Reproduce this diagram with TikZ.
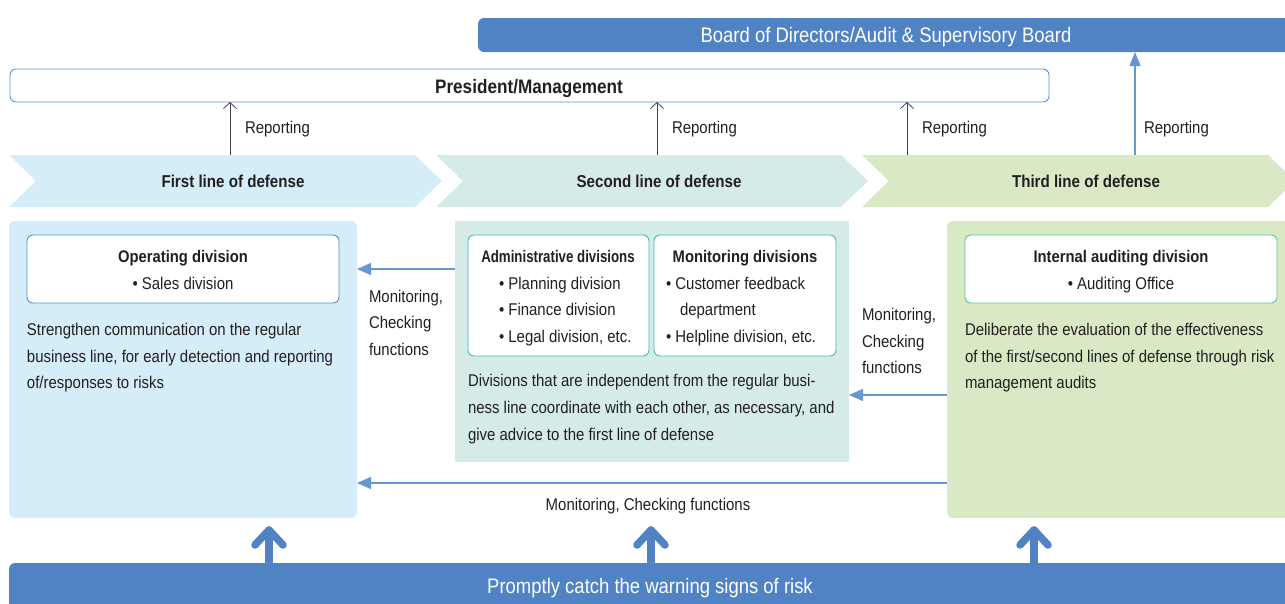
\documentclass[tikz,border=0pt]{standalone}
\usepackage{fontspec}
\setmainfont{Liberation Sans}[FakeStretch=0.88]
\newfontfamily\admfont{Liberation Sans}[FakeStretch=0.79]
\usetikzlibrary{arrows.meta}
\definecolor{txt}{HTML}{231F20}
\definecolor{mainblue}{HTML}{5083C4}
\definecolor{lineblue}{HTML}{6797D3}
\definecolor{fillA}{HTML}{D5ECF9}
\definecolor{fillB}{HTML}{D4EBE8}
\definecolor{fillC}{HTML}{D9E9C5}
\definecolor{strokeA}{HTML}{5B8FD0}
\definecolor{strokeB}{HTML}{3DBDB5}
\definecolor{strokeC}{HTML}{5DC29A}
\newcommand\bodyfnt{\fontsize{17}{26.5}\selectfont}
\newcommand\titlefnt{\fontsize{16.8}{20}\selectfont\bfseries}
\tikzset{
  txtline/.style={anchor=base west, font=\bodyfnt, text=txt},
  ctrline/.style={anchor=base, font=\bodyfnt, text=txt},
  ttl/.style={anchor=base, font=\titlefnt, text=txt},
  subbox/.style={draw=#1, line width=0.9pt, fill=white, rounded corners=6pt, anchor=north west},
  bluearr/.style={draw=lineblue, line width=1.3pt, -{Triangle[length=14pt,width=12pt]}, color=lineblue},
  reparr/.style={draw=txt!85, line width=0.8pt, -{Straight Barb[length=6pt,width=13pt]}},
  bigarr/.style={draw=mainblue, line width=7.5pt, line cap=round, line join=round},
}
\begin{document}
\begin{tikzpicture}[x=1pt,y=-1pt, every node/.style={inner sep=0pt, outer sep=0pt}]
\useasboundingbox (0,0) rectangle (1285,603);
\clip (0,0) rectangle (1285,603);

% Board
\node[fill=mainblue, rounded corners=6pt, minimum width=820pt, minimum height=34pt, anchor=north west] (board) at (478,18) {};
\node[anchor=base, font=\fontsize{21}{24}\selectfont, text=white] (boardt) at (886,42) {Board of Directors/Audit \& Supervisory Board};

% President
\node[draw=strokeA, line width=0.9pt, fill=white, rounded corners=6pt, minimum width=1039pt, minimum height=33pt, anchor=north west] (pres) at (10,69) {};
\node[anchor=base, font=\fontsize{19.5}{22}\selectfont\bfseries, text=txt] (prest) at (529,93) {President/Management};

% Chevrons
\fill[fillA] (9,155) -- (415,155) -- (442,181) -- (415,207) -- (9,207) -- (36,181) -- cycle;
\fill[fillB] (436,155) -- (841,155) -- (868,181) -- (841,207) -- (436,207) -- (463,181) -- cycle;
\fill[fillC] (862,155) -- (1268,155) -- (1295,181) -- (1268,207) -- (862,207) -- (889,181) -- cycle;
\node[ttl, font=\fontsize{17.2}{20}\selectfont\bfseries] (l1) at (233,187) {First line of defense};
\node[ttl, font=\fontsize{17.2}{20}\selectfont\bfseries] (l2) at (659,187) {Second line of defense};
\node[ttl, font=\fontsize{17.2}{20}\selectfont\bfseries] (l3) at (1086,187) {Third line of defense};

% Reporting arrows
\coordinate (r1) at (230,155);
\coordinate (r2) at (657,155);
\coordinate (r3) at (907,155);
\coordinate (r4) at (1135,155);
\draw[reparr] (r1) -- (r1 |- pres.south);
\draw[reparr] (r2) -- (r2 |- pres.south);
\draw[reparr] (r3) -- (r3 |- pres.south);
\draw[draw=lineblue, line width=1.3pt, -{Triangle[length=14pt,width=11pt]}] (r4) -- (r4 |- board.south);
\node[txtline] (rep1) at (245,133) {Reporting};
\node[txtline] (rep2) at (672,133) {Reporting};
\node[txtline] (rep3) at (922,133) {Reporting};
\node[txtline] (rep4) at (1144,133) {Reporting};

% Big boxes
\node[fill=fillA, rounded corners=6pt, minimum width=348pt, minimum height=297pt, anchor=north west] (box1) at (9,221) {};
\node[fill=fillB, minimum width=394pt, minimum height=241pt, anchor=north west] (box2) at (455,221) {};
\node[fill=fillC, rounded corners=6pt, minimum width=360pt, minimum height=297pt, anchor=north west] (box3) at (947,221) {};

% First line content
\node[subbox=strokeA, minimum width=312pt, minimum height=68pt] (opbox) at (27,235) {};
\node[ttl] (opt) at (183,262) {Operating division};
\node[ctrline] (op1) at (183,289) {• Sales division};
\node[txtline] (d11) at (27,335) {Strengthen communication on the regular};
\node[txtline] (d12) at (27,362) {business line, for early detection and reporting};
\node[txtline] (d13) at (27,388) {of/responses to risks};

% Second line content
\node[subbox=strokeB, minimum width=181pt, minimum height=121pt] (adbox) at (468,235) {};
\node[subbox=strokeB, minimum width=182pt, minimum height=121pt] (mobox) at (654,235) {};
\node[ttl, font=\fontsize{16.8}{20}\selectfont\admfont\bfseries] (adt) at (558,262) {Administrative divisions};
\node[txtline] (ad1) at (499,289) {• Planning division};
\node[txtline] (ad2) at (499,315) {• Finance division};
\node[txtline] (ad3) at (499,342) {• Legal division, etc.};
\node[ttl] (mot) at (745,262) {Monitoring divisions};
\node[txtline] (mo1) at (666,289) {• Customer feedback};
\node[txtline] (mo2) at (680,315) {department};
\node[txtline] (mo3) at (666,342) {• Helpline division, etc.};
\node[txtline] (d21) at (468,386) {Divisions that are independent from the regular busi-};
\node[txtline] (d22) at (468,413) {ness line coordinate with each other, as necessary, and};
\node[txtline] (d23) at (468,440) {give advice to the first line of defense};

% Third line content
\node[subbox=strokeC, minimum width=312pt, minimum height=68pt] (iabox) at (965,235) {};
\node[ttl] (iat) at (1121,262) {Internal auditing division};
\node[ctrline] (ia1) at (1121,289) {• Auditing Office};
\node[txtline] (d31) at (965,335) {Deliberate the evaluation of the effectiveness};
\node[txtline] (d32) at (965,362) {of the first/second lines of defense through risk};
\node[txtline] (d33) at (965,388) {management audits};

% Monitoring arrows
\draw[bluearr] (opbox.east -| box2.west) -- (opbox.east -| box1.east);
\coordinate (m2) at (947,395);
\draw[bluearr] (m2) -- (m2 -| box2.east);
\coordinate (m3) at (947,483);
\draw[bluearr] (m3) -- (m3 -| box1.east);
\node[txtline] (ml1) at (369,302) {Monitoring,};
\node[txtline] (ml2) at (369,328) {Checking};
\node[txtline] (ml3) at (369,355) {functions};
\node[txtline] (mr1) at (862,320) {Monitoring,};
\node[txtline] (mr2) at (862,347) {Checking};
\node[txtline] (mr3) at (862,373) {functions};
\node[ctrline] (mb) at (648,510) {Monitoring, Checking functions};

% Bottom bar
\node[fill=mainblue, rounded corners=6pt, minimum width=1290pt, minimum height=50pt, anchor=north west] (bar) at (9,563) {};
\node[anchor=base, font=\fontsize{21}{24}\selectfont, text=white] (bart) at (650,593) {Promptly catch the warning signs of risk};

% Big up arrows
\foreach \x/\n in {269/a, 651/b, 1034/c}{
  \coordinate (\n tip) at (\x,530);
  \draw[bigarr] (\x,566) -- (\n tip);
  \draw[bigarr] ([xshift=-14pt,yshift=-15pt]\n tip) -- (\n tip) -- ([xshift=14pt,yshift=-15pt]\n tip);
}
\end{tikzpicture}
\end{document}
